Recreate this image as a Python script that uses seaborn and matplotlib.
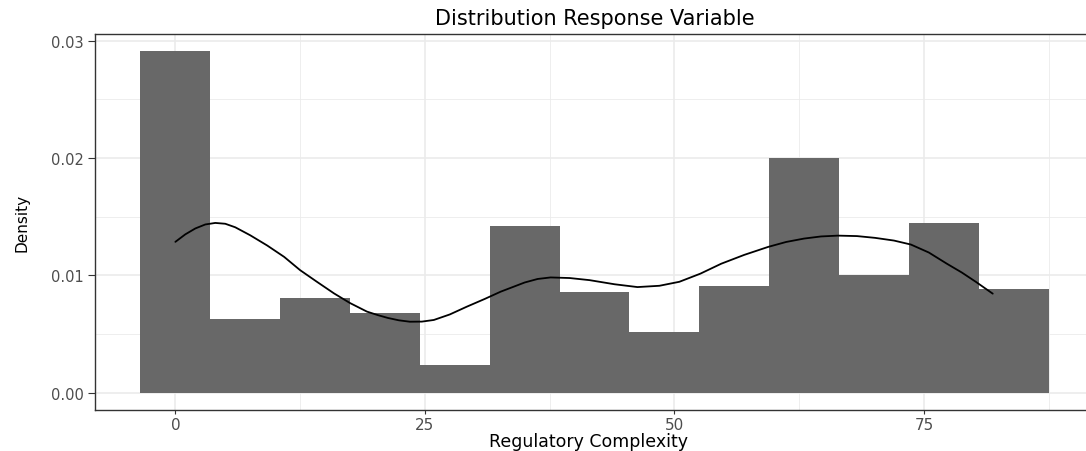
import numpy as np
import pandas as pd
import matplotlib
matplotlib.use('Agg')
import matplotlib.pyplot as plt
import seaborn as sns
from matplotlib.ticker import MultipleLocator

# Histogram bins (centers) and the density height of each bar
bin_centers = [0, 7, 14, 21, 28, 35, 42, 49, 56, 63, 70, 77, 84]
bar_density = [0.0291, 0.00627, 0.00805, 0.00678, 0.0024, 0.01424, 0.00856,
               0.0052, 0.00909, 0.0200, 0.01008, 0.01449, 0.00881]
bin_width = 7

# Kernel density curve
curve_x = [0.0, 1.0, 2.0, 3.0, 4.0, 5.0, 6.0, 7.5, 9.2, 10.9, 12.5, 14.2,
           15.9, 17.5, 19.2, 20.3, 21.3, 22.4, 23.5, 24.7, 25.9, 27.5, 29.2,
           31.0, 32.6, 35.0, 36.3, 37.6, 39.5, 41.5, 44.0, 46.3, 48.5, 50.5,
           52.6, 54.7, 57.0, 59.4, 61.2, 63.0, 64.7, 66.4, 68.3, 70.1, 72.0,
           73.7, 75.5, 77.3, 78.8, 80.2, 81.9]
curve_y = [0.01286, 0.01350, 0.01400, 0.01434, 0.01447, 0.01440, 0.01410,
           0.01342, 0.01255, 0.01158, 0.01045, 0.00945, 0.00847, 0.00765,
           0.00692, 0.00662, 0.00638, 0.00618, 0.00606, 0.00607, 0.00621,
           0.00668, 0.00734, 0.00800, 0.00862, 0.00940, 0.00970, 0.00983,
           0.00978, 0.00960, 0.00925, 0.00901, 0.00912, 0.00946, 0.01015,
           0.01100, 0.01175, 0.01243, 0.01285, 0.01314, 0.01332, 0.01339,
           0.01335, 0.01320, 0.01297, 0.01263, 0.01195, 0.01100, 0.01025,
           0.00946, 0.00845]

x_ticks = [0, 25, 50, 75]
y_ticks = [0.00, 0.01, 0.02, 0.03]

sns.set_theme(style='white')
plt.rcParams['font.family'] = ['DejaVu Sans']

fig = plt.figure(figsize=(10.86, 4.52), dpi=100)
ax = fig.add_axes([0.0875, 0.0907, 0.9199, 0.8319])

edges = [c - bin_width / 2 for c in bin_centers] + [bin_centers[-1] + bin_width / 2]
hist_df = pd.DataFrame({'complexity': bin_centers, 'density': bar_density})

# Bars: weights give the bar heights directly
sns.histplot(data=hist_df, x='complexity', weights='density', bins=edges, stat='count',
             color='#686868', alpha=1, edgecolor='none', linewidth=0, ax=ax)
sns.lineplot(x=curve_x, y=curve_y, color='black', linewidth=1.3, ax=ax)

# ggplot style limits (5% expansion)
x_lo, x_hi = edges[0], edges[-1]
pad = (x_hi - x_lo) * 0.05
ax.set_xlim(x_lo - pad, x_hi + pad)
y_top = max(bar_density)
ax.set_ylim(-y_top * 0.05, y_top * 1.05)

ax.set_xticks(x_ticks)
ax.set_yticks(y_ticks)
ax.set_yticklabels(['%.2f' % v for v in y_ticks])
ax.xaxis.set_minor_locator(MultipleLocator(12.5))
ax.yaxis.set_minor_locator(MultipleLocator(0.005))

ax.grid(True, which='major', color='#EBEBEB', linewidth=1.2)
ax.grid(True, which='minor', color='#EBEBEB', linewidth=0.6)
ax.set_axisbelow(True)

for s in ax.spines.values():
    s.set_color('#333333')
    s.set_linewidth(1.0)

ax.tick_params(axis='x', which='major', length=3, width=0.8, color='#333333',
               labelsize=11, labelcolor='#4D4D4D', pad=2, bottom=True)
ax.tick_params(axis='y', which='major', length=5, width=0.8, color='#333333',
               labelsize=10.5, labelcolor='#4D4D4D', pad=3, left=True)
ax.tick_params(which='minor', length=0)

ax.set_xlabel('Regulatory Complexity', fontsize=12.5, color='black', va='center')
ax.xaxis.set_label_coords(0.4936, -0.082)
ax.set_ylabel('Density', fontsize=11, color='black', va='center')
ax.yaxis.set_label_coords(-0.073, 0.5)
ax.set_title('Distribution Response Variable', fontsize=15, color='black', pad=7,
             x=0.5)

fig.savefig('out.png', dpi=100)
